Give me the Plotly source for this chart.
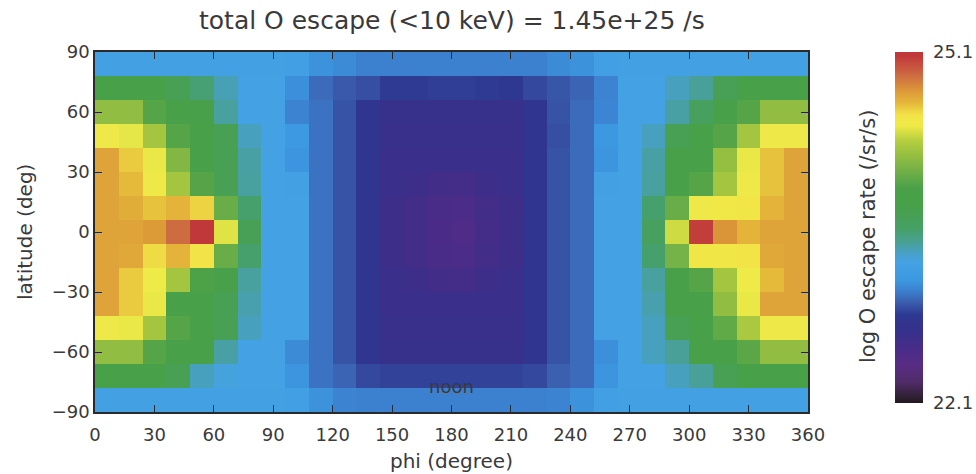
import plotly.graph_objects as go

# Grid: 12-degree bins in azimuth (phi) and latitude
phi = [6 + 12 * i for i in range(30)]
lat = [84, 72, 60, 48, 36, 24, 12, 0, -12, -24, -36, -48, -60, -72, -84]

# log10 O escape rate (/sr/s), one row per latitude bin (north to south)
rate_84 = [23.28, 23.28, 23.28, 23.28, 23.28, 23.28, 23.28, 23.28, 23.26, 23.13, 23.10, 23.06, 23.06, 23.06, 23.06,
           23.06, 23.06, 23.06, 23.06, 23.10, 23.13, 23.26, 23.28, 23.28, 23.28, 23.28, 23.28, 23.28, 23.28, 23.28]
rate_72 = [23.84, 23.84, 23.82, 23.72, 23.56, 23.42, 23.30, 23.30, 23.12, 23.00, 22.95, 22.92, 22.86, 22.86, 22.87,
           22.87, 22.86, 22.85, 22.90, 22.94, 22.98, 23.07, 23.30, 23.30, 23.40, 23.47, 23.70, 23.84, 23.84, 23.84]
rate_60 = [24.20, 24.20, 23.98, 23.84, 23.80, 23.46, 23.30, 23.30, 23.07, 23.02, 22.93, 22.82, 22.72, 22.72, 22.72,
           22.72, 22.72, 22.72, 22.82, 22.93, 23.00, 23.08, 23.30, 23.30, 23.45, 23.65, 23.84, 23.98, 24.20, 24.20]
rate_48 = [24.48, 24.45, 24.27, 23.98, 23.84, 23.72, 23.40, 23.30, 23.17, 23.02, 22.93, 22.82, 22.70, 22.70, 22.70,
           22.70, 22.70, 22.70, 22.82, 22.92, 23.00, 23.15, 23.30, 23.40, 23.72, 23.84, 23.98, 24.27, 24.48, 24.48]
rate_36 = [24.73, 24.62, 24.46, 24.15, 23.84, 23.72, 23.45, 23.30, 23.14, 23.02, 22.93, 22.82, 22.68, 22.68, 22.68,
           22.68, 22.68, 22.68, 22.82, 22.93, 23.00, 23.14, 23.30, 23.45, 23.82, 23.84, 24.22, 24.46, 24.64, 24.73]
rate_24 = [24.73, 24.66, 24.48, 24.27, 23.98, 23.72, 23.46, 23.30, 23.28, 23.02, 22.93, 22.82, 22.68, 22.66, 22.62,
           22.60, 22.66, 22.68, 22.82, 22.93, 23.00, 23.28, 23.30, 23.46, 23.84, 23.98, 24.27, 24.48, 24.64, 24.73]
rate_12 = [24.73, 24.70, 24.64, 24.68, 24.60, 24.05, 23.58, 23.30, 23.30, 23.02, 22.93, 22.82, 22.66, 22.62, 22.56,
           22.54, 22.62, 22.66, 22.82, 22.93, 23.00, 23.30, 23.30, 23.58, 24.05, 24.48, 24.50, 24.55, 24.68, 24.73]
rate_0 = [24.73, 24.73, 24.76, 24.90, 25.08, 24.44, 23.70, 23.30, 23.30, 23.02, 22.93, 22.82, 22.66, 22.62, 22.55,
          22.52, 22.60, 22.66, 22.82, 22.93, 23.00, 23.30, 23.30, 23.65, 24.40, 25.05, 24.78, 24.68, 24.73, 24.73]
rate_m12 = [24.73, 24.72, 24.58, 24.68, 24.56, 24.05, 23.58, 23.30, 23.30, 23.02, 22.93, 22.82, 22.66, 22.62, 22.56,
            22.54, 22.62, 22.66, 22.82, 22.93, 23.00, 23.30, 23.30, 23.58, 24.10, 24.52, 24.52, 24.56, 24.72, 24.73]
rate_m24 = [24.73, 24.62, 24.47, 24.27, 23.95, 23.80, 23.46, 23.30, 23.30, 23.02, 22.93, 22.82, 22.68, 22.66, 22.62,
            22.60, 22.66, 22.68, 22.82, 22.93, 23.00, 23.30, 23.30, 23.46, 23.84, 23.98, 24.27, 24.47, 24.66, 24.73]
rate_m36 = [24.73, 24.62, 24.46, 23.84, 23.84, 23.72, 23.43, 23.30, 23.30, 23.02, 22.93, 22.82, 22.68, 22.68, 22.68,
            22.68, 22.68, 22.68, 22.82, 22.93, 23.00, 23.30, 23.30, 23.43, 23.84, 23.84, 24.20, 24.46, 24.73, 24.73]
rate_m48 = [24.48, 24.46, 24.27, 23.98, 23.84, 23.72, 23.40, 23.30, 23.30, 23.02, 22.93, 22.82, 22.70, 22.70, 22.70,
            22.70, 22.70, 22.70, 22.82, 22.93, 23.00, 23.30, 23.30, 23.40, 23.72, 23.84, 24.02, 24.30, 24.48, 24.48]
rate_m60 = [24.20, 24.20, 23.98, 23.84, 23.84, 23.45, 23.30, 23.30, 23.10, 23.02, 22.93, 22.82, 22.72, 22.72, 22.72,
            22.72, 22.72, 22.72, 22.82, 22.93, 23.00, 23.12, 23.30, 23.40, 23.47, 23.84, 23.84, 24.00, 24.20, 24.20]
rate_m72 = [23.84, 23.84, 23.82, 23.72, 23.40, 23.32, 23.30, 23.30, 23.14, 23.02, 22.98, 22.90, 22.88, 22.88, 22.88,
            22.88, 22.88, 22.88, 22.90, 22.97, 23.00, 23.14, 23.30, 23.30, 23.40, 23.47, 23.72, 23.84, 23.84, 23.84]
rate_m84 = [23.28, 23.28, 23.28, 23.28, 23.28, 23.28, 23.28, 23.28, 23.26, 23.13, 23.07, 23.06, 23.06, 23.06, 23.06,
            23.06, 23.06, 23.06, 23.06, 23.07, 23.13, 23.26, 23.28, 23.28, 23.28, 23.28, 23.28, 23.28, 23.28, 23.28]

rates = [rate_84, rate_72, rate_60, rate_48, rate_36, rate_24, rate_12, rate_0,
         rate_m12, rate_m24, rate_m36, rate_m48, rate_m60, rate_m72, rate_m84]

zmin, zmax = 22.1, 25.1
x_ticks = list(range(0, 361, 30))
y_ticks = list(range(-90, 91, 30))
total_escape = "1.45e+25"

# Rainbow-style colour table (black -> purple -> blue -> green -> yellow -> red)
rainbow = [
    [0.000, "#201820"], [0.015, "#2e2030"], [0.060, "#502c68"], [0.110, "#582c84"],
    [0.150, "#4a2c88"], [0.200, "#38308a"], [0.250, "#2e3890"], [0.290, "#3c60b0"],
    [0.320, "#3c80d0"], [0.350, "#3c98e0"], [0.400, "#44a2e4"], [0.430, "#48a0c4"],
    [0.460, "#48a094"], [0.500, "#46a064"], [0.560, "#48a04a"], [0.610, "#48a048"],
    [0.660, "#70b048"], [0.710, "#98c040"], [0.750, "#b8d040"], [0.790, "#eeea48"],
    [0.820, "#f2e446"], [0.855, "#e4b83a"], [0.890, "#dc9838"], [0.935, "#cc6a40"],
    [0.990, "#c0383a"], [1.000, "#c0383a"],
]

FONT = "DejaVu Sans"
TXT = "#3a3a3a"

fig = go.Figure(go.Heatmap(
    x=phi, y=lat, z=rates,
    zmin=zmin, zmax=zmax, colorscale=rainbow,
    colorbar=dict(
        x=(895 - 95) / 713, xanchor="left", xpad=0,
        y=1 - (227.5 - 52) / 360, yanchor="middle", ypad=0,
        lenmode="pixels", len=351, thickness=28,
        outlinewidth=0, ticks="outside", ticklen=7, tickcolor="rgba(0,0,0,0)",
        tickvals=[zmin, zmax], ticktext=[f"{zmin:.1f}", f"{zmax:.1f}"],
        tickfont=dict(family=FONT, size=18, color=TXT),
    ),
    hoverongaps=False,
))

axis_common = dict(
    showgrid=False, zeroline=False, showline=True, linecolor="#2a2a2a", linewidth=1.5,
    mirror="ticks", ticks="inside", ticklen=7, tickcolor="#2a2a2a", tickwidth=1.2,
    tickfont=dict(family=FONT, size=18, color=TXT),
)

fig.update_layout(
    width=976, height=474,
    margin=dict(l=95, r=168, t=52, b=62, autoexpand=False),
    paper_bgcolor="white", plot_bgcolor="white",
    xaxis=dict(range=[0, 360], tickvals=x_ticks, ticklabelstandoff=6, **axis_common),
    yaxis=dict(range=[-90, 90], tickvals=y_ticks, **axis_common),
    annotations=[
        dict(text=f"total O escape (<10 keV) = {total_escape} /s", xref="paper", yref="paper",
             x=0.5, y=1, yshift=32, xanchor="center", yanchor="middle", showarrow=False,
             font=dict(family=FONT, size=25, color=TXT)),
        dict(text="phi (degree)", xref="paper", yref="paper", x=0.5, y=0, yshift=-49,
             xanchor="center", yanchor="middle", showarrow=False,
             font=dict(family=FONT, size=20, color=TXT)),
        dict(text="latitude (deg)", xref="paper", yref="paper", x=0, xshift=-70, y=0.5,
             xanchor="center", yanchor="middle", textangle=-90, showarrow=False,
             font=dict(family=FONT, size=20, color=TXT)),
        dict(text="log O escape rate (/sr/s)", xref="paper", yref="paper",
             x=(868 - 95) / 713, y=0.5, yshift=-5, xanchor="center", yanchor="middle",
             textangle=-90, showarrow=False,
             font=dict(family=FONT, size=21, color=TXT)),
        dict(text="noon", x=180, y=-77, xref="x", yref="y", showarrow=False,
             xanchor="center", yanchor="middle",
             font=dict(family=FONT, size=18, color=TXT)),
    ],
)

fig.write_html("out.html")
